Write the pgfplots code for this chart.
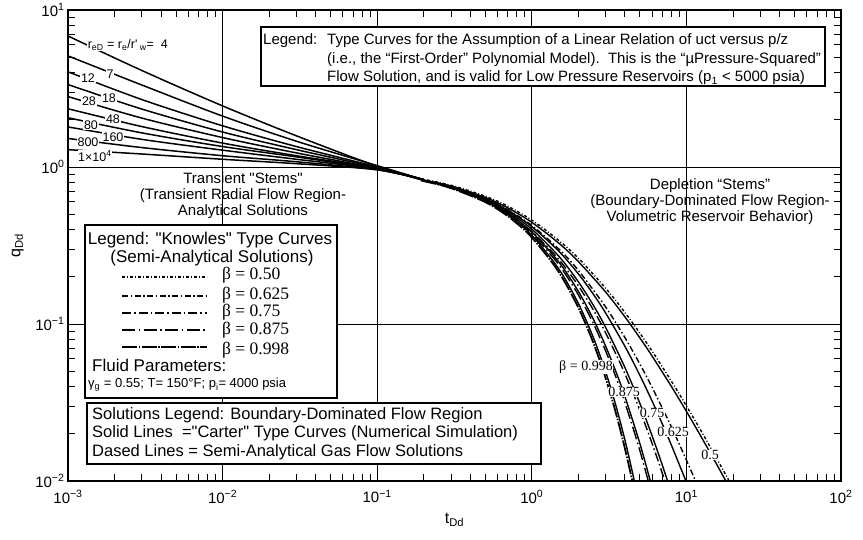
\documentclass[border=0pt]{standalone}
\usepackage{fontspec}
\setmainfont{Liberation Sans}
\newfontfamily\rawsans{Liberation Sans}
\newfontfamily\serif{Liberation Serif}
\usepackage{pgfplots}
\pgfplotsset{compat=1.18}
\tikzset{
 stem/.style={line width=1.5pt, black, smooth},
 carter/.style={line width=1.4pt, black, smooth},
 k50/.style={line width=1.4pt, black, dash pattern=on 3pt off 2pt on 1pt off 2pt},
 k625/.style={line width=1.4pt, black, dash pattern=on 6pt off 2.5pt on 1.5pt off 2.5pt},
 k75/.style={line width=1.4pt, black, dash pattern=on 9pt off 3pt on 1.5pt off 3pt},
 k875/.style={line width=1.4pt, black, dash pattern=on 13pt off 3.5pt on 1.5pt off 3.5pt},
 k998/.style={line width=1.8pt, black, dash pattern=on 15pt off 1.5pt on 1.5pt off 1.5pt},
}
\newcommand{\fs}[1]{\fontsize{#1}{#1}\selectfont}
\newcommand{\dq}{{\rawsans"}}
\newcommand{\sq}{{\rawsans'}}
\begin{document}
\begin{tikzpicture}[x=1pt,y=1pt]
\useasboundingbox (-68,-59) rectangle (795,481);
\begin{axis}[
  at={(0,0)}, anchor=south west,
  width=773pt, height=471pt, scale only axis,
  xmode=log, ymode=log,
  xmin=1e-3, xmax=1e2, ymin=1e-2, ymax=1e1,
  xtick={0.001,0.01,0.1,1,10,100},
  xticklabels={10\textsuperscript{−3},10\textsuperscript{−2},10\textsuperscript{−1},10\textsuperscript{0},10\textsuperscript{1},10\textsuperscript{2}},
  ytick={0.01,0.1,1,10},
  yticklabels={10\textsuperscript{−2},10\textsuperscript{−1},10\textsuperscript{0},10\textsuperscript{1}},
  minor xtick={0.002,0.003,0.004,0.005,0.006,0.007,0.008,0.009,0.02,0.03,0.04,0.05,0.06,0.07,0.08,0.09,0.2,0.3,0.4,0.5,0.6,0.7,0.8,0.9,2,3,4,5,6,7,8,9,20,30,40,50,60,70,80,90},
  minor ytick={0.02,0.03,0.04,0.05,0.06,0.07,0.08,0.09,0.2,0.3,0.4,0.5,0.6,0.7,0.8,0.9,2,3,4,5,6,7,8,9},
  xtick pos=both, ytick pos=both,
  tick align=inside,
  major tick length=0pt, minor tick length=7pt,
  tick style={black, line width=0.8pt},
  grid=major, major grid style={black, line width=0.9pt},
  axis line style={black, line width=1.3pt},
  ticklabel style={font=\fs{15}},
  xticklabel style={yshift=-6pt},
  xlabel={t\textsubscript{Dd}}, ylabel={q\textsubscript{Dd}},
  xlabel style={at={(axis description cs:0.5,-0.083)}, anchor=center, font=\fs{16}},
  ylabel style={at={(axis description cs:-0.065,0.5)}, anchor=center, font=\fs{16}},
]
% transient stems
\addplot[stem] coordinates {(0.001,6.83)(0.003,4.12)(0.01,2.45)(0.03,1.58)(0.1,1.01)(0.2,0.82)};
\addplot[stem] coordinates {(0.001,5.10)(0.003,3.33)(0.01,2.11)(0.03,1.46)(0.1,1.02)(0.2,0.83)};
\addplot[stem] coordinates {(0.001,4.04)(0.003,2.69)(0.01,1.83)(0.03,1.35)(0.1,1.00)(0.2,0.83)};
\addplot[stem] coordinates {(0.001,3.35)(0.003,2.34)(0.01,1.67)(0.03,1.29)(0.1,0.99)(0.2,0.83)};
\addplot[stem] coordinates {(0.001,2.81)(0.003,2.05)(0.01,1.54)(0.03,1.23)(0.1,0.98)(0.2,0.83)};
\addplot[stem] coordinates {(0.001,2.35)(0.003,1.81)(0.01,1.42)(0.03,1.18)(0.1,0.98)(0.2,0.83)};
\addplot[stem] coordinates {(0.001,2.06)(0.003,1.65)(0.01,1.35)(0.03,1.16)(0.1,0.97)(0.2,0.83)};
\addplot[stem] coordinates {(0.001,1.80)(0.003,1.50)(0.01,1.28)(0.03,1.12)(0.1,0.97)(0.2,0.83)};
\addplot[stem] coordinates {(0.001,1.52)(0.003,1.33)(0.01,1.18)(0.03,1.08)(0.1,0.96)(0.2,0.83)};
\addplot[stem] coordinates {(0.001,1.29)(0.003,1.21)(0.01,1.12)(0.03,1.05)(0.1,0.96)(0.2,0.83)};
% Carter depletion stems (solid)
\addplot[carter] coordinates {(0.2,0.8187)(0.3,0.7408)(0.5,0.6065)(0.7,0.4966)(1,0.3679)(1.5,0.2231)(2,0.1353)(2.5,0.0821)(3,0.0498)(3.5,0.0302)(4,0.0183)(4.5,0.0111)(5,0.00674)};
\addplot[carter] coordinates {(0.2,0.8203)(0.3,0.7441)(0.5,0.6139)(0.7,0.5083)(1,0.3855)(1.5,0.2472)(2,0.1615)(2.5,0.1074)(3,0.0725)(3.5,0.0497)(4,0.0346)(5,0.01734)(6,0.00909)};
\addplot[carter] coordinates {(0.2,0.8219)(0.3,0.7473)(0.5,0.6209)(0.7,0.5194)(1,0.4019)(1.5,0.2693)(2,0.1859)(2.5,0.1317)(3,0.0954)(4,0.0529)(5,0.03125)(6,0.0194)(7,0.01256)(8,0.0084)};
\addplot[carter] coordinates {(0.2,0.8235)(0.3,0.7503)(0.5,0.6276)(0.7,0.5297)(1,0.4171)(1.5,0.2898)(2,0.2087)(2.5,0.1548)(3,0.1177)(4,0.0722)(5,0.0471)(6,0.0323)(7,0.0230)(8,0.0169)(10,0.00984)};
\addplot[carter] coordinates {(0.2,0.8264)(0.3,0.7561)(0.5,0.64)(0.7,0.5487)(1,0.4444)(1.5,0.3265)(2,0.25)(3,0.16)(4,0.1111)(5,0.0816)(6,0.0625)(8,0.04)(10,0.02778)(12,0.02041)(15,0.01384)(18,0.01)(20,0.00826)};
% Knowles semi-analytical (dashed)
\addplot[k998,smooth] coordinates {(0.194,0.8187)(0.291,0.7408)(0.485,0.6065)(0.679,0.4966)(0.97,0.3679)(1.455,0.2231)(1.94,0.1353)(2.425,0.0821)(2.91,0.0498)(3.395,0.0302)(3.88,0.0183)(4.365,0.0111)(4.85,0.00674)};
\addplot[k875,smooth] coordinates {(0.194,0.8203)(0.291,0.7441)(0.485,0.6139)(0.679,0.5083)(0.97,0.3855)(1.455,0.2472)(1.94,0.1615)(2.425,0.1074)(2.91,0.0725)(3.395,0.0497)(3.88,0.0346)(4.85,0.01734)(5.82,0.00909)};
\addplot[k75,smooth] coordinates {(0.192,0.8219)(0.288,0.7473)(0.48,0.6209)(0.672,0.5194)(0.96,0.4019)(1.44,0.2693)(1.92,0.1859)(2.4,0.1317)(2.88,0.0954)(3.84,0.0529)(4.8,0.03125)(5.76,0.0194)(6.72,0.01256)(7.68,0.0084)};
\addplot[k625,smooth] coordinates {(0.2,0.8242)(0.3,0.7518)(0.5,0.6308)(0.7,0.5347)(1,0.4243)(1.5,0.2995)(2,0.2196)(3,0.1286)(4,0.0820)(5,0.0556)(6,0.0395)(8,0.0221)(10,0.0136)(12,0.0090)};
\addplot[k50,smooth] coordinates {(0.21,0.8264)(0.315,0.7561)(0.525,0.64)(0.735,0.5487)(1.05,0.4444)(1.575,0.3265)(2.1,0.25)(3.15,0.16)(4.2,0.1111)(5.25,0.0816)(6.3,0.0625)(8.4,0.04)(10.5,0.02778)(12.6,0.02041)(15.75,0.01384)(18.9,0.01)(21,0.00826)};
\end{axis}
% stem labels
\begin{scope}[every node/.style={fill=white, inner sep=0.6pt, font=\fs{12.5}}]
\node[anchor=west] at (19,436) {r\textsubscript{eD} = r\textsubscript{e}/r\sq\textsubscript{ w}=\ \ 4};
\node at (42,407) {7};
\node at (20,403) {12};
\node at (41,383) {18};
\node at (21,380) {28};
\node at (45,362) {48};
\node at (23,356) {80};
\node at (45,344) {160};
\node at (20,339) {800};
\node at (27,325) {1×10\textsuperscript{4}};
\end{scope}
% depletion beta labels
\begin{scope}[every node/.style={fill=white, inner sep=0.5pt, font=\serif\fs{14}}]
\node at (518,114) {β = 0.998};
\node at (556,89) {0.875};
\node at (584,68) {0.75};
\node at (605,49) {0.625};
\node at (642,26) {0.5};
\end{scope}
% region texts
\node[align=center, font=\fs{15}, inner sep=0pt] at (175,285) {Transient \dq Stems\dq\\[1pt](Transient Radial Flow Region-\\[1pt]Analytical Solutions};
\node[align=center, font=\fs{15}, inner sep=0pt] at (642,279) {Depletion “Stems”\\[1pt](Boundary-Dominated Flow Region-\\[1pt]Volumetric Reservoir Behavior)};
% top right legend box
\draw[fill=white, line width=1.1pt] (193,454) rectangle (757,395);
\begin{scope}[every node/.style={anchor=west, inner sep=0pt, font=\fs{15}}]
\node at (195,440) {Legend:};
\node at (259,440) {Type Curves for the Assumption of a Linear Relation of uct versus p/z};
\node at (259,421) {(i.e., the “First-Order” Polynomial Model).\ \ This is the “µPressure-Squared”};
\node at (259,403) {Flow Solution, and is valid for Low Pressure Reservoirs (p\textsubscript{1} < 5000 psia)};
\end{scope}
% left legend box
\draw[fill=white, line width=1.1pt] (17,256) rectangle (269,83);
\node[font=\fs{17}, inner sep=0pt] at (142,241) {Legend: \dq Knowles\dq{} Type Curves};
\node[font=\fs{17}, inner sep=0pt] at (144,223) {(Semi-Analytical Solutions)};
\draw[k50] (54,204) -- (139,204);
\draw[k625] (54,185) -- (139,185);
\draw[k75] (54,168) -- (139,168);
\draw[k875] (54,151) -- (139,151);
\draw[k998] (54,134) -- (139,134);
\begin{scope}[every node/.style={anchor=west, inner sep=0pt, font=\serif\fs{17.5}}]
\node at (154,206) {β = 0.50};
\node at (154,186) {β = 0.625};
\node at (154,169) {β = 0.75};
\node at (154,151) {β = 0.875};
\node at (154,131) {β = 0.998};
\end{scope}
\node[anchor=west, inner sep=0pt, font=\fs{17}] at (24,116) {Fluid Parameters:};
\node[anchor=west, inner sep=0pt, font=\fs{13}] at (20,96) {γ\textsubscript{g} = 0.55; T= 150°F; p\textsubscript{i}= 4000 psia};
% solutions box
\draw[fill=white, line width=1.1pt] (19,78) rectangle (473,17);
\begin{scope}[every node/.style={anchor=west, inner sep=0pt, font=\fs{16.5}}]
\node at (24,66) {Solutions Legend: Boundary-Dominated Flow Region};
\node at (24,48) {Solid Lines\ \ =\dq Carter\dq{} Type Curves (Numerical Simulation)};
\node at (24,29) {Dased Lines = Semi-Analytical Gas Flow Solutions};
\end{scope}
\end{tikzpicture}
\end{document}
